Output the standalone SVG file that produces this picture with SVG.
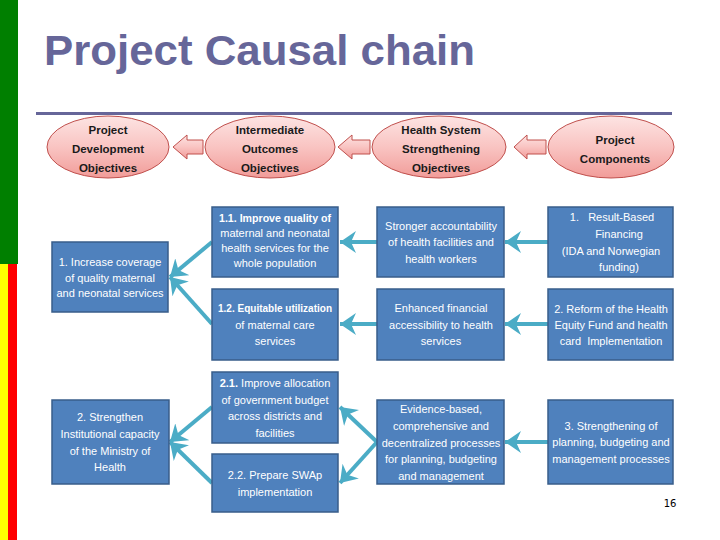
<svg xmlns="http://www.w3.org/2000/svg" width="720" height="540" viewBox="0 0 720 540">
<defs>
<linearGradient id="pink" x1="0" y1="0" x2="0" y2="1">
<stop offset="0" stop-color="#fde4e3"/>
<stop offset="0.5" stop-color="#f9c4c2"/>
<stop offset="1" stop-color="#f19c99"/>
</linearGradient>
<marker id="ah" markerUnits="userSpaceOnUse" markerWidth="18" markerHeight="22" refX="16" refY="11" orient="auto">
<path d="M0,0 L16,11 L0,22 L5,11 Z" fill="#4bacc6"/>
</marker>
<style>
.ell{fill:url(#pink);stroke:#c0504d;stroke-width:1}
.barrow{fill:url(#pink);stroke:#c0504d;stroke-width:1}
.box{fill:#4f81bd;stroke:#385d8a;stroke-width:1.5}
.et{font-family:"Liberation Sans",Arial,sans-serif;font-weight:bold;font-size:11.5px;fill:#1a1a1a;text-anchor:middle}
.bt{font-family:"Liberation Sans",Arial,sans-serif;font-size:11px;fill:#ffffff;text-anchor:middle}
.b{font-weight:bold}
.con{stroke:#4bacc6;stroke-width:4;fill:none;marker-end:url(#ah)}
</style>
</defs>
<rect width="720" height="540" fill="#ffffff"/>
<rect x="0" y="0" width="18" height="264" fill="#007f00"/>
<rect x="0" y="264" width="8" height="276" fill="#ffff00"/>
<rect x="8" y="264" width="9" height="276" fill="#ff0000"/>
<text x="44" y="65" font-family="'Liberation Sans',Arial,sans-serif" font-weight="bold" font-size="42" fill="#666699" textLength="431" lengthAdjust="spacingAndGlyphs">Project Causal chain</text>
<rect x="36" y="112" width="636" height="3" fill="#666699"/>

<g id="ell1"><ellipse class="ell" cx="108" cy="147" rx="61" ry="31"/>
<text class="et" x="108" y="134">Project</text><text class="et" x="108" y="153">Development</text><text class="et" x="108" y="172">Objectives</text></g>
<g id="ell2"><ellipse class="ell" cx="270" cy="147" rx="65" ry="31"/>
<text class="et" x="270" y="134">Intermediate</text><text class="et" x="270" y="153">Outcomes</text><text class="et" x="270" y="172">Objectives</text></g>
<g id="ell3"><ellipse class="ell" cx="439" cy="147" rx="67" ry="31"/>
<text class="et" x="441" y="134">Health System</text><text class="et" x="441" y="153">Strengthening</text><text class="et" x="441" y="172">Objectives</text></g>
<g id="ell4"><ellipse class="ell" cx="611" cy="147" rx="63" ry="31"/>
<text class="et" x="615" y="144">Project</text><text class="et" x="615" y="163">Components</text></g>

<g id="blockarrows">
<path class="barrow" d="M173,147 L187,135 L187,140 L203,140 L203,154 L187,154 L187,159 Z"/>
<path class="barrow" d="M338,147 L352,135 L352,140 L370,140 L370,154 L352,154 L352,159 Z"/>
<path class="barrow" d="M514,147 L527,135 L527,140 L546,140 L546,154 L527,154 L527,159 Z"/>
</g>

<g id="connectors">
<line class="con" x1="212" y1="242" x2="170" y2="277"/>
<line class="con" x1="212" y1="324" x2="170" y2="277"/>
<line class="con" x1="377" y1="242" x2="340" y2="242"/>
<line class="con" x1="377" y1="324" x2="340" y2="324"/>
<line class="con" x1="548" y1="242" x2="505" y2="242"/>
<line class="con" x1="548" y1="324" x2="505" y2="324"/>
<line class="con" x1="212" y1="407" x2="170" y2="442"/>
<line class="con" x1="212" y1="483" x2="170" y2="442"/>
<line class="con" x1="377" y1="442" x2="340" y2="407"/>
<line class="con" x1="377" y1="442" x2="340" y2="483"/>
<line class="con" x1="548" y1="442" x2="505" y2="442"/>
</g>

<g id="boxA"><rect class="box" x="52" y="242" width="116" height="70"/>
<text class="bt" x="110" y="266">1. Increase coverage</text><text class="bt" x="110" y="282">of quality maternal</text><text class="bt" x="110" y="297">and neonatal services</text></g>
<g id="box11"><rect class="box" x="212" y="207" width="126" height="70"/>
<text class="bt b" x="275" y="222" textLength="112" lengthAdjust="spacingAndGlyphs">1.1. Improve quality of</text><text class="bt" x="275" y="237">maternal and neonatal</text><text class="bt" x="275" y="252">health services for the</text><text class="bt" x="275" y="267">whole population</text></g>
<g id="box12"><rect class="box" x="212" y="289" width="126" height="71"/>
<text class="bt b" x="275" y="312" textLength="114" lengthAdjust="spacingAndGlyphs">1.2. Equitable utilization</text><text class="bt" x="275" y="329">of maternal care</text><text class="bt" x="275" y="345">services</text></g>
<g id="boxStronger"><rect class="box" x="377" y="207" width="127" height="70"/>
<text class="bt" x="441" y="230">Stronger accountability</text><text class="bt" x="441" y="246">of health facilities and</text><text class="bt" x="441" y="263">health workers</text></g>
<g id="boxResult"><rect class="box" x="548" y="207" width="125" height="70"/>
<text class="bt" x="612" y="221" xml:space="preserve">1.   Result-Based</text><text class="bt" x="619" y="238">Financing</text><text class="bt" x="611" y="255">(IDA and Norwegian</text><text class="bt" x="619" y="271">funding)</text></g>
<g id="boxEnhanced"><rect class="box" x="377" y="289" width="127" height="71"/>
<text class="bt" x="441" y="312">Enhanced financial</text><text class="bt" x="441" y="329">accessibility to health</text><text class="bt" x="441" y="345">services</text></g>
<g id="boxReform"><rect class="box" x="548" y="289" width="125" height="71"/>
<text class="bt" x="611" y="313">2. Reform of the Health</text><text class="bt" x="611" y="329">Equity Fund and health</text><text class="bt" x="611" y="345" xml:space="preserve">card  Implementation</text></g>
<g id="boxB"><rect class="box" x="52" y="400" width="117" height="84"/>
<text class="bt" x="110" y="421">2. Strengthen</text><text class="bt" x="110" y="438">Institutional capacity</text><text class="bt" x="110" y="455">of the Ministry of</text><text class="bt" x="110" y="471">Health</text></g>
<g id="box21"><rect class="box" x="212" y="372" width="126" height="71"/>
<text class="bt" x="275" y="387"><tspan class="b">2.1.</tspan> Improve allocation</text><text class="bt" x="275" y="404">of government budget</text><text class="bt" x="275" y="420">across districts and</text><text class="bt" x="275" y="437">facilities</text></g>
<g id="box22"><rect class="box" x="212" y="454" width="126" height="58"/>
<text class="bt" x="275" y="479">2.2. Prepare SWAp</text><text class="bt" x="275" y="496">implementation</text></g>
<g id="boxEvidence"><rect class="box" x="377" y="400" width="127" height="84"/>
<text class="bt" x="441" y="413">Evidence-based,</text><text class="bt" x="441" y="430">comprehensive and</text><text class="bt" x="441" y="447">decentralized processes</text><text class="bt" x="441" y="463">for planning, budgeting</text><text class="bt" x="441" y="480">and management</text></g>
<g id="boxC3"><rect class="box" x="548" y="400" width="125" height="84"/>
<text class="bt" x="611" y="430">3. Strengthening of</text><text class="bt" x="611" y="446">planning, budgeting and</text><text class="bt" x="611" y="463">management processes</text></g>

<text x="670" y="507" font-family="'DejaVu Sans',sans-serif" font-size="10" fill="#000000" text-anchor="middle">16</text>
</svg>
